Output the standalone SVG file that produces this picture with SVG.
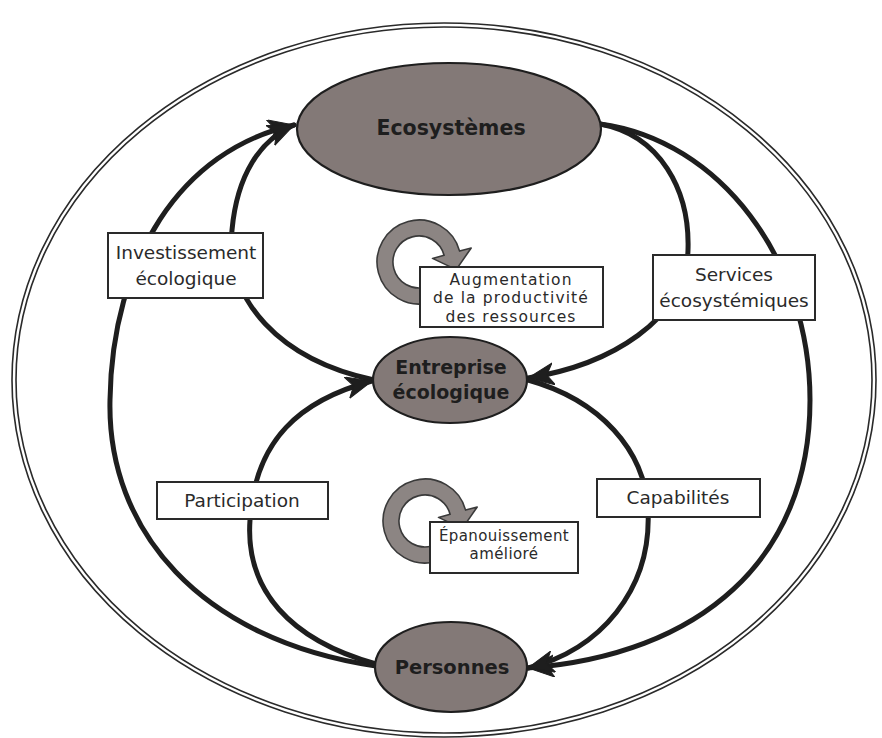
<svg xmlns="http://www.w3.org/2000/svg" width="882" height="738" viewBox="0 0 882 738">
  <defs>
    <marker id="arrow" markerUnits="userSpaceOnUse" markerWidth="30" markerHeight="24" refX="26" refY="11" orient="auto">
      <path d="M0,0 L26,11 L0,22 L7,11 Z" fill="#1e1e1e" stroke="#1e1e1e" stroke-width="1"/>
    </marker>
  </defs>
  <style>
    .bg { fill: #ffffff; }
    .outer { fill: none; stroke: #2a2a2a; stroke-width: 1.6; }
    .node { fill: #837977; stroke: #1e1e1e; stroke-width: 2.2; }
    .ntext { font-family: "DejaVu Sans", "Open Sans", sans-serif; font-weight: bold; fill: #1e1e1e; text-anchor: middle; }
    .conn { fill: none; stroke: #1e1e1e; stroke-width: 5; stroke-linecap: round; }
    .box { fill: #ffffff; stroke: #2a2a2a; stroke-width: 2; }
    .btext { font-family: "DejaVu Sans", "Open Sans", sans-serif; fill: #2a2a2a; text-anchor: middle; }
    .ring { fill: #8c8583; stroke: #3a3a3a; stroke-width: 1.6; stroke-linejoin: round; }
  </style>
  <rect class="bg" x="0" y="0" width="882" height="738"/>

  <g id="frame">
    <ellipse class="outer" cx="444" cy="380" rx="432" ry="357"/>
    <ellipse class="outer" cx="444" cy="380" rx="428" ry="353"/>
  </g>

  <g id="connectors">
    <path class="conn" d="M376,666 C200,640 107,530 110,400 C112,260 180,150 294,125" marker-end="url(#arrow)"/>
    <path class="conn" d="M374,380 C280,360 225,300 232,230 C237,175 260,140 294,125" marker-end="url(#arrow)"/>
    <path class="conn" d="M600,124 C660,135 690,190 688,250 C686,320 610,365 528,378" marker-end="url(#arrow)"/>
    <path class="conn" d="M600,124 C720,140 810,260 810,400 C810,560 700,655 528,668" marker-end="url(#arrow)"/>
    <path class="conn" d="M376,664 C290,640 245,590 250,520 C255,440 300,400 372,381" marker-end="url(#arrow)"/>
    <path class="conn" d="M528,380 C600,400 645,450 648,510 C652,590 600,650 528,668" marker-end="url(#arrow)"/>
  </g>

  <g id="loop-productivite">
    <path class="ring" d="M429.9,302.6 A42,42 0 1 1 459.6,251.1 L471.2,248 L456.2,269.6 L432.5,258.4 L444.1,255.3 A26,26 0 1 0 425.7,287.1 Z"/>
  </g>
  <g id="loop-epanouissement">
    <path class="ring" d="M435.9,561.6 A42,42 0 1 1 465.6,510.1 L477.2,507 L462.2,528.6 L438.5,517.4 L450.1,514.3 A26,26 0 1 0 431.7,546.1 Z"/>
  </g>

  <g id="node-ecosystemes">
    <ellipse class="node" cx="449" cy="129" rx="152" ry="66"/>
    <text class="ntext" x="451" y="135" font-size="20.5">Ecosystèmes</text>
  </g>
  <g id="node-entreprise">
    <ellipse class="node" cx="450" cy="380" rx="77" ry="43"/>
    <text class="ntext" x="451" y="374" font-size="19">Entreprise</text>
    <text class="ntext" x="451" y="399" font-size="19">écologique</text>
  </g>
  <g id="node-personnes">
    <ellipse class="node" cx="451" cy="667" rx="76" ry="45"/>
    <text class="ntext" x="452" y="674" font-size="19.5">Personnes</text>
  </g>

  <g id="label-investissement">
    <rect class="box" x="108" y="233" width="155" height="65"/>
    <text class="btext" x="186" y="259" font-size="18.5">Investissement</text>
    <text class="btext" x="186" y="285" font-size="18.5">écologique</text>
  </g>
  <g id="label-services">
    <rect class="box" x="653" y="255" width="162" height="65"/>
    <text class="btext" x="734" y="281" font-size="18.5">Services</text>
    <text class="btext" x="734" y="307" font-size="18.5">écosystémiques</text>
  </g>
  <g id="label-augmentation">
    <rect class="box" x="420" y="267" width="183" height="60"/>
    <text class="btext" x="511" y="285" font-size="15.5" letter-spacing="1.1">Augmentation</text>
    <text class="btext" x="511" y="303.3" font-size="15.5" letter-spacing="1.1">de la productivité</text>
    <text class="btext" x="511" y="321.6" font-size="15.5" letter-spacing="1.1">des ressources</text>
  </g>
  <g id="label-participation">
    <rect class="box" x="157" y="482" width="171" height="37"/>
    <text class="btext" x="242" y="507" font-size="18.5">Participation</text>
  </g>
  <g id="label-capabilites">
    <rect class="box" x="597" y="479" width="163" height="38"/>
    <text class="btext" x="678" y="504" font-size="18.5">Capabilités</text>
  </g>
  <g id="label-epanouissement">
    <rect class="box" x="430" y="522" width="148" height="51"/>
    <text class="btext" x="504" y="541" font-size="15" letter-spacing="0.4">Épanouissement</text>
    <text class="btext" x="504" y="559" font-size="15" letter-spacing="0.4">amélioré</text>
  </g>
</svg>
